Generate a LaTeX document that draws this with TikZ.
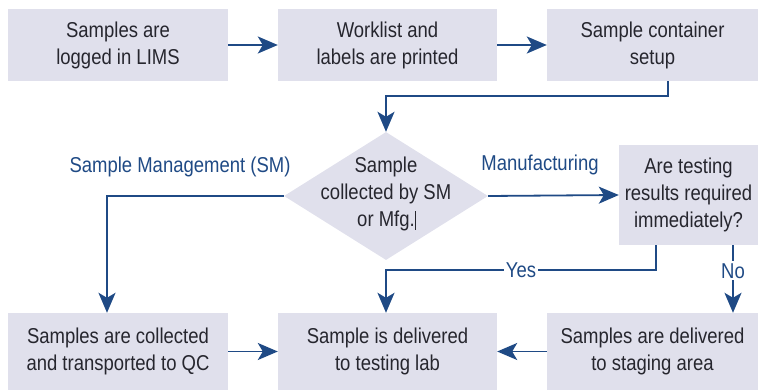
\documentclass[tikz,border=0pt]{standalone}
\usepackage{fontspec}
\setmainfont[FakeStretch=0.86]{Liberation Sans}
\usetikzlibrary{arrows.meta,shapes.geometric}
\definecolor{boxfill}{HTML}{E0E0EC}
\definecolor{linec}{HTML}{1F4A85}
\definecolor{txt}{HTML}{26262E}
\tikzset{>={Stealth[length=20pt,width=17pt,inset=5pt]}}
\begin{document}
\begin{tikzpicture}[x=1pt,y=-1pt,
  every node/.style={font=\fontsize{21.5}{27}\selectfont},
  box/.style={fill=boxfill,draw=none,inner sep=0pt,align=center,text=txt},
  conn/.style={draw=linec,line width=1.8pt,->},
  lab/.style={text=linec,inner sep=2pt}]
\useasboundingbox (0,0) rectangle (758,390);
% top row
\node[box,minimum width=220pt,minimum height=72pt] (b1) at (118,45) {Samples are\\logged in LIMS};
\node[box,minimum width=219pt,minimum height=72pt] (b2) at (387.5,45) {Worklist and\\labels are printed};
\node[box,minimum width=211pt,minimum height=72pt] (b3) at (652.5,45) {Sample container\\setup};
% decision
\node[diamond,fill=boxfill,minimum width=204pt,minimum height=128pt,inner sep=0pt] (d) at (386,196) {};
\node[align=center,text=txt] (dt) at (386,194) {Sample\\collected by SM\\or Mfg.\rlap{\rule[-3pt]{1.2pt}{19pt}}};
\node[box,minimum width=139pt,minimum height=100pt] (q) at (688.5,195) {Are testing\\results required\\immediately?};
% bottom row
\node[box,minimum width=220pt,minimum height=77pt] (bl) at (118,351.5) {Samples are collected\\and transported to QC};
\node[box,minimum width=219pt,minimum height=77pt] (bm) at (387.5,351.5) {Sample is delivered\\to testing lab};
\node[box,minimum width=211pt,minimum height=77pt] (br) at (652.5,351.5) {Samples are delivered\\to staging area};
% labels
\node[lab] (lsm) at (180,167) {Sample Management (SM)};
\node[lab] (lmf) at (540,165) {Manufacturing};
% helper coordinates
\coordinate (c1) at (668,96);
\coordinate (c2) at (386,96);
\coordinate (c3) at (107,196);
\coordinate (c4) at (656,270);
\coordinate (c5) at (386,270);
% connectors
\draw[conn] (b1.east) -- (b2.west);
\draw[conn] (b2.east) -- (b3.west);
\draw[conn] (b3.south -| c1) -- (c1) -- (c2) -- (d.north);
\draw[conn] (d.west) -- (c3) -- (bl.north -| c3);
\draw[conn] (d.east) -- (q.west);
\draw[conn] (q.south -| c4) -- (c4) -- node[lab,fill=white,pos=0.5] (lyes) {Yes} (c5) -- (bm.north -| c5);
\draw[conn] (q.south -| 733,0) -- node[lab,fill=white,pos=0.38] (lno) {No} (br.north -| 733,0);
\draw[conn] (bl.east) -- (bm.west |- bl.east);
\draw[conn] (br.west) -- (bm.east |- br.west);
\end{tikzpicture}
\end{document}
